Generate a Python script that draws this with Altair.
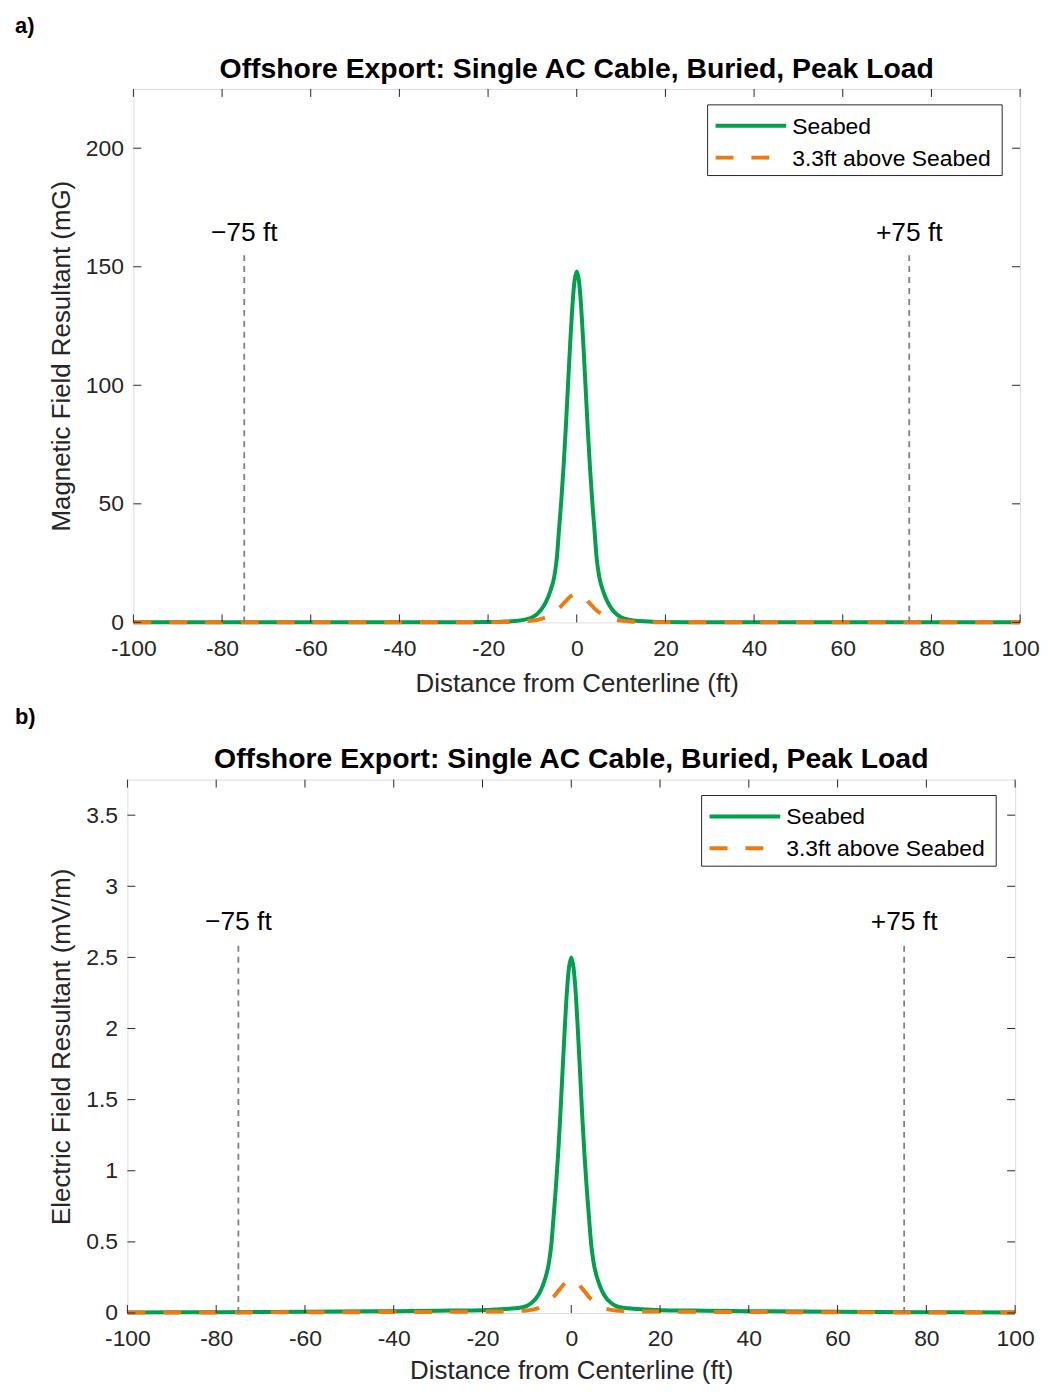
import altair as alt
import pandas as pd

# ---------------- data ----------------
x_pts = [-100, -80, -60, -40, -30, -25, -20, -17, -14, -12, -10, -9, -8, -7, -6, -5, -4.5, -4, -3.5, -3, -2.5, -2, -1.5, -1, -0.5,
         0,
         0.5, 1, 1.5, 2, 2.5, 3, 3.5, 4, 4.5, 5, 6, 7, 8, 9, 10, 12, 14, 17, 20, 25, 30, 40, 60, 80, 100]

mag_seabed = [0.003, 0.005, 0.01, 0.02, 0.04, 0.07, 0.15, 0.28, 0.55, 1.05, 2.2, 3.4, 5.4, 8.4, 13, 20, 27, 39, 51, 65, 81, 99, 117, 133, 144,
              148,
              144, 133, 117, 99, 81, 65, 51, 39, 27, 20, 13, 8.4, 5.4, 3.4, 2.2, 1.05, 0.55, 0.28, 0.15, 0.07, 0.04, 0.02, 0.01, 0.005, 0.003]

mag_above = [0.001, 0.001, 0.002, 0.005, 0.01, 0.02, 0.05, 0.1, 0.22, 0.39, 0.74, 1.0, 1.5, 2.1, 3.0, 4.3, 5.0, 5.9, 6.9, 7.9, 8.9, 9.9, 10.8, 11.4, 11.9,
             12,
             11.9, 11.4, 10.8, 9.9, 8.9, 7.9, 6.9, 5.9, 5.0, 4.3, 3.0, 2.1, 1.5, 1.0, 0.74, 0.39, 0.22, 0.1, 0.05, 0.02, 0.01, 0.005, 0.002, 0.001, 0.001]

ele_seabed = [0.004, 0.006, 0.009, 0.013, 0.016, 0.018, 0.02, 0.025, 0.03, 0.035, 0.05, 0.07, 0.10, 0.15, 0.23, 0.36, 0.48, 0.67, 0.87, 1.10, 1.37, 1.68, 1.98, 2.25, 2.43,
              2.50,
              2.43, 2.25, 1.98, 1.68, 1.37, 1.10, 0.87, 0.67, 0.48, 0.36, 0.23, 0.15, 0.10, 0.07, 0.05, 0.035, 0.03, 0.025, 0.02, 0.018, 0.016, 0.013, 0.009, 0.006, 0.004]

ele_above = [0.003, 0.004, 0.005, 0.007, 0.008, 0.009, 0.01, 0.011, 0.012, 0.014, 0.018, 0.022, 0.029, 0.04, 0.058, 0.082, 0.096, 0.113, 0.132, 0.152, 0.171, 0.19, 0.207, 0.219, 0.228,
             0.23,
             0.228, 0.219, 0.207, 0.19, 0.171, 0.152, 0.132, 0.113, 0.096, 0.082, 0.058, 0.04, 0.029, 0.022, 0.018, 0.014, 0.012, 0.011, 0.01, 0.009, 0.008, 0.007, 0.005, 0.004, 0.003]

x_ticks = [-100, -80, -60, -40, -20, 0, 20, 40, 60, 80, 100]
mag_ticks = [0, 50, 100, 150, 200]
ele_ticks = [0, 0.5, 1, 1.5, 2, 2.5, 3, 3.5]

series_names = ["Seabed", "3.3ft above Seabed"]
marker_x = [-75, 75]
marker_labels = ["\u221275 ft", "+75 ft"]
title_text = "Offshore Export: Single AC Cable, Buried, Peak Load"
x_title = "Distance from Centerline (ft)"

GREEN = "#00A04E"
ORANGE = "#EE7A10"
AX = "#262626"
FONT = "Liberation Sans"
H = 536


def panel(seabed, above, ymax, yticks, ytitle, tag, tag_x, ann_y, rule_top, W, ytitle_x, xtitle_y):
    xs = alt.Scale(domain=[-100, 100], nice=False, zero=False)
    ys = alt.Scale(domain=[0, ymax], nice=False, zero=False)
    x_axis = alt.Axis(values=x_ticks, labelExpr="'' + datum.value", domain=False, ticks=False,
                      grid=False, labelFlush=False, labelPadding=15, labelFontSize=23, labelColor=AX, labelFont=FONT,
                      title=x_title, titleFontSize=26, titleFontWeight="normal", titleColor=AX, titleFont=FONT,
                      titleBaseline="alphabetic", titleX=W / 2, titleY=xtitle_y, titleAlign="center")
    y_axis = alt.Axis(values=yticks, labelExpr="'' + datum.value", domain=False, ticks=False,
                      grid=False, labelFlush=False, labelPadding=10, labelFontSize=23, labelColor=AX, labelFont=FONT,
                      title=ytitle, titleFontSize=26, titleFontWeight="normal", titleColor=AX, titleFont=FONT,
                      titleBaseline="alphabetic", titleX=ytitle_x, titleY=H / 2, titleAlign="center", titleAngle=270)

    X = lambda f: alt.X(f, scale=xs, axis=x_axis)
    Y = lambda f: alt.Y(f, scale=ys, axis=y_axis)

    df_g = pd.DataFrame({"x": x_pts, "y": seabed})
    df_o = pd.DataFrame({"x": x_pts, "y": above})

    g = alt.Chart(df_g).mark_line(color=GREEN, strokeWidth=4, interpolate="monotone").encode(
        x=X("x:Q"), y=Y("y:Q"))
    o = alt.Chart(df_o).mark_line(color=ORANGE, strokeWidth=4, strokeDash=[18, 18], interpolate="monotone").encode(
        x=X("x:Q"), y=Y("y:Q"))

    df_r = pd.DataFrame({"x": marker_x, "y": [0, 0], "y1": [rule_top, rule_top]})
    rules = alt.Chart(df_r).mark_rule(color="#808080", strokeWidth=1.8, strokeDash=[6, 5]).encode(
        x=X("x:Q"), y=Y("y:Q"), y2="y1:Q")

    df_t = pd.DataFrame({"x": marker_x, "y": [ann_y, ann_y], "t": marker_labels})
    ann = alt.Chart(df_t).mark_text(fontSize=26.5, font=FONT, color="black", baseline="alphabetic", align="center").encode(
        x=X("x:Q"), y=Y("y:Q"), text="t:N")

    df_xt = pd.DataFrame({"x": x_ticks})
    df_yt = pd.DataFrame({"y": yticks})
    tb = alt.Chart(df_xt).mark_rule(color=AX, strokeWidth=1).encode(
        x=X("x:Q"), y=alt.value(H), y2=alt.value(H - 8))
    tt = alt.Chart(df_xt).mark_rule(color=AX, strokeWidth=1).encode(
        x=X("x:Q"), y=alt.value(0), y2=alt.value(8))
    tl = alt.Chart(df_yt).mark_rule(color=AX, strokeWidth=1).encode(
        y=Y("y:Q"), x=alt.value(0), x2=alt.value(8))
    tr = alt.Chart(df_yt).mark_rule(color=AX, strokeWidth=1).encode(
        y=Y("y:Q"), x=alt.value(W), x2=alt.value(W - 8))

    # legend (drawn as marks inside the plot)
    one = pd.DataFrame({"k": [0]})
    box = alt.Chart(one).mark_rect(fill="white", stroke=AX, strokeWidth=1).encode(
        x=alt.value(577), x2=alt.value(873), y=alt.value(16), y2=alt.value(87))
    lg1 = alt.Chart(one).mark_rule(color=GREEN, strokeWidth=4).encode(
        x=alt.value(585), x2=alt.value(656), y=alt.value(37))
    lg2 = alt.Chart(one).mark_rule(color=ORANGE, strokeWidth=4, strokeDash=[18, 18]).encode(
        x=alt.value(585), x2=alt.value(656), y=alt.value(69))
    lt1 = alt.Chart(pd.DataFrame({"t": [series_names[0]]})).mark_text(
        fontSize=23, font=FONT, color="black", align="left", baseline="middle").encode(
        text="t:N", x=alt.value(662), y=alt.value(38))
    lt2 = alt.Chart(pd.DataFrame({"t": [series_names[1]]})).mark_text(
        fontSize=23, font=FONT, color="black", align="left", baseline="middle").encode(
        text="t:N", x=alt.value(662), y=alt.value(70))

    ttl = alt.Chart(pd.DataFrame({"t": [title_text]})).mark_text(
        fontSize=28.5, font=FONT, fontWeight="bold", color="black", align="center", baseline="alphabetic").encode(
        text="t:N", x=alt.value(W / 2), y=alt.value(-11.5))
    tagm = alt.Chart(pd.DataFrame({"t": [tag]})).mark_text(
        fontSize=22, font=FONT, fontWeight="bold", color="black", align="left", baseline="top").encode(
        text="t:N", x=alt.value(tag_x), y=alt.value(-73))

    return alt.layer(g, o, rules, ann, tb, tt, tl, tr, box, lg1, lg2, lt1, lt2, ttl, tagm).properties(
        width=W, height=H)


def spacer():
    return alt.Chart(pd.DataFrame({"k": [0]})).mark_point(opacity=0, size=1, filled=True).encode(
        x=alt.value(0), y=alt.value(0)).properties(width=1, height=1, view=alt.ViewBackground(stroke="transparent"))


pa = panel(mag_seabed, mag_above, 225, mag_ticks, "Magnetic Field Resultant (mG)", "a)", -119, 161, 155.7, 891, -64, 69)
pb = panel(ele_seabed, ele_above, 3.75, ele_ticks, "Electric Field Resultant (mV/m)", "b)", -113, 2.69, 2.6, 892, -58, 66)

row_a = alt.hconcat(spacer(), pa, spacing=0)
row_b = alt.hconcat(spacer(), pb, spacing=0)

chart = alt.vconcat(row_a, row_b, spacing=8).properties(
    padding={"left": 3, "top": 3, "right": 0, "bottom": 0},
).configure_view(stroke=AX, strokeWidth=1).configure(font=FONT)

chart.save("out.html", embed_options={"renderer": "svg", "actions": False})
